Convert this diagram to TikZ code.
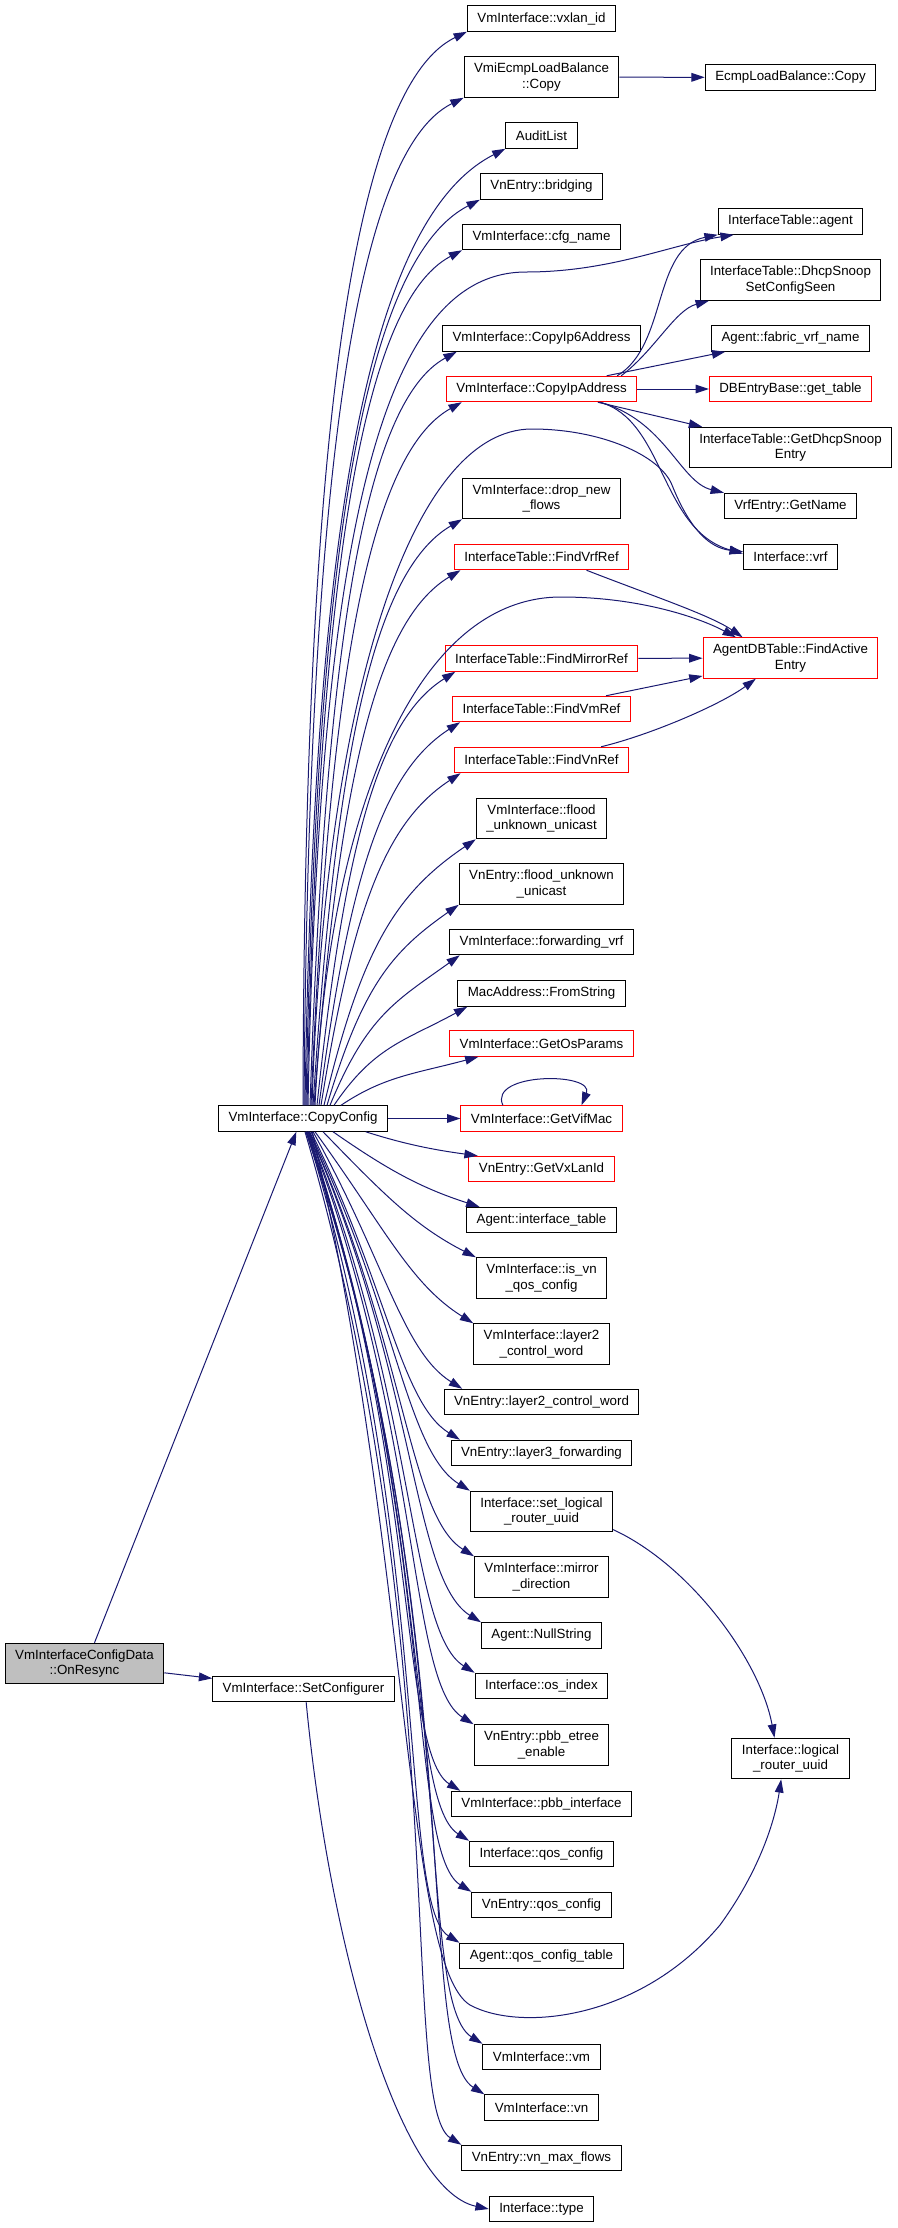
\documentclass[tikz,border=0pt]{standalone}
\usepackage{fontspec}
\setmainfont{Liberation Sans}
\usetikzlibrary{arrows.meta,calc}
\definecolor{callblue}{HTML}{191970}
\definecolor{rootgray}{HTML}{BFBFBF}
\tikzset{fn/.style={draw=black,line width=0.75pt,fill=white,font=\fontsize{10}{11.5}\selectfont,inner xsep=7.5pt,inner ysep=1pt,minimum height=19.1pt,align=center}}
\tikzset{trunc/.style={fn,draw=red}}
\tikzset{two/.style={minimum height=30.4pt}}
\tikzset{root/.style={fn,fill=rootgray}}
\tikzset{call/.style={-{Triangle[length=10pt,width=6.5pt]},callblue,line width=0.75pt}}

\begin{document}
\begin{tikzpicture}[x=0.75pt,y=-0.75pt]
  \useasboundingbox (0,0) rectangle (897,2228);

  \node[fn] (vxlan) at (541.5,18.5) {VmInterface::vxlan\_id};
  \node[fn,two] (vmi) at (541.5,77) {VmiEcmpLoadBalance\\::Copy};
  \node[fn] (ecmp) at (790.5,77.5) {EcmpLoadBalance::Copy};
  \node[fn] (audit) at (541.5,135.5) {AuditList};
  \node[fn] (bridging) at (541.5,186.5) {VnEntry::bridging};
  \node[fn] (cfg) at (541.5,237) {VmInterface::cfg\_name};
  \node[fn] (agent) at (790.5,221.5) {InterfaceTable::agent};
  \node[fn,two] (dhcpset) at (790.5,280) {InterfaceTable::DhcpSnoop\\SetConfigSeen};
  \node[fn] (ip6) at (541.5,338.5) {VmInterface::CopyIp6Address};
  \node[fn] (fabric) at (790.5,338.5) {Agent::fabric\_vrf\_name};
  \node[trunc] (ipaddr) at (541.5,389) {VmInterface::CopyIpAddress};
  \node[trunc] (gettable) at (790.5,389) {DBEntryBase::get\_table};
  \node[fn,two] (dhcpentry) at (790.5,447.5) {InterfaceTable::GetDhcpSnoop\\Entry};
  \node[fn,two] (drop) at (541.5,498.5) {VmInterface::drop\_new\\\_flows};
  \node[fn] (getname) at (790.5,506) {VrfEntry::GetName};
  \node[trunc] (findvrf) at (541.5,557) {InterfaceTable::FindVrfRef};
  \node[fn] (vrf) at (790.5,557) {Interface::vrf};
  \node[trunc,two] (findactive) at (790.5,658) {AgentDBTable::FindActive\\Entry};
  \node[trunc] (mirror) at (541.5,658.5) {InterfaceTable::FindMirrorRef};
  \node[trunc] (findvm) at (541.5,709) {InterfaceTable::FindVmRef};
  \node[trunc] (findvn) at (541.5,760) {InterfaceTable::FindVnRef};
  \node[fn,two] (flood) at (541.5,818.5) {VmInterface::flood\\\_unknown\_unicast};
  \node[fn,two] (vneflood) at (541.5,884) {VnEntry::flood\_unknown\\\_unicast};
  \node[fn] (fwd) at (541.5,942) {VmInterface::forwarding\_vrf};
  \node[fn] (fromstring) at (541.5,993.5) {MacAddress::FromString};
  \node[trunc] (osparams) at (541.5,1043.5) {VmInterface::GetOsParams};
  \node[fn] (cc) at (303,1118.5) {VmInterface::CopyConfig};
  \node[trunc] (vifmac) at (541.5,1118.5) {VmInterface::GetVifMac};
  \node[trunc] (vxlanid) at (541.5,1169) {VnEntry::GetVxLanId};
  \node[fn] (ifacetable) at (541.5,1220) {Agent::interface\_table};
  \node[fn,two] (isvn) at (541.5,1278) {VmInterface::is\_vn\\\_qos\_config};
  \node[fn,two] (l2) at (541.5,1344) {VmInterface::layer2\\\_control\_word};
  \node[fn] (vnel2) at (541.5,1402) {VnEntry::layer2\_control\_word};
  \node[fn] (l3) at (541.5,1453) {VnEntry::layer3\_forwarding};
  \node[fn,two] (setlr) at (541.5,1511.5) {Interface::set\_logical\\\_router\_uuid};
  \node[fn,two] (mirrordir) at (541.5,1577) {VmInterface::mirror\\\_direction};
  \node[fn] (nullstr) at (541.5,1635.5) {Agent::NullString};
  \node[root,two] (onresync) at (84.5,1663.5) {VmInterfaceConfigData\\::OnResync};
  \node[fn] (setconf) at (303.5,1689) {VmInterface::SetConfigurer};
  \node[fn] (osindex) at (541.5,1686) {Interface::os\_index};
  \node[fn,two] (pbbetree) at (541.5,1745) {VnEntry::pbb\_etree\\\_enable};
  \node[fn,two] (logical) at (790.5,1758.5) {Interface::logical\\\_router\_uuid};
  \node[fn] (pbbif) at (541.5,1804) {VmInterface::pbb\_interface};
  \node[fn] (qos) at (541.5,1854) {Interface::qos\_config};
  \node[fn] (vneqos) at (541.5,1905) {VnEntry::qos\_config};
  \node[fn] (qostable) at (541.5,1956) {Agent::qos\_config\_table};
  \node[fn] (vm) at (541.5,2057) {VmInterface::vm};
  \node[fn] (vn) at (541.5,2107.5) {VmInterface::vn};
  \node[fn] (vnmax) at (541.5,2158) {VnEntry::vn\_max\_flows};
  \node[fn] (type) at (541.5,2209) {Interface::type};

  % calls out of CopyConfig, upwards
  \foreach \t/\s/\e in {vxlan/0/0,vmi/0.75/0,audit/1.5/0,bridging/2.25/0,cfg/3/0,
      ip6/5.25/11,ipaddr/6/12,drop/7.5/0,findvrf/8.25/5,mirror/10.5/8,findvm/12/6,
      findvn/13.5/5,flood/15.75/0,vneflood/18/0,fwd/20.25/8,fromstring/23.25/7.5,osparams/28.5/22}
    \draw[call] let \p1=([xshift=\s pt]cc.north), \p2=([xshift=\e pt]\t.south west),
      \n1={\x2-\x1}, \n2={\y2-\y1}, \n3={min(\n1,\n2)},
      \n4={max(0,0.33-\n2/2500)}, \n5={0.45+\n2/3000} in
      (\p1) .. controls +(\n4*\n1,0.6*\n2) and +(-\n5*\n1,-0.35*\n3) .. (\p2);

  % calls out of CopyConfig, downwards
  \foreach \t/\s/\e in {vxlanid/47/7,ifacetable/22.5/10,isvn/15/0,l2/9/0,vnel2/7.5/14,
      l3/6/7,setlr/5/0,mirrordir/4.5/0,nullstr/4.5/0,osindex/4/0,pbbetree/3.75/0,
      pbbif/3.75/7,qos/3/0,vneqos/3/0,qostable/2.5/0,vm/2.25/0,vn/2.25/0,vnmax/1.5/0}
    \draw[call] let \p1=([xshift=\s pt]cc.south), \p2=([xshift=\e pt]\t.north west),
      \n1={\x2-\x1}, \n2={\y1-\y2}, \n3={min(\n1,\n2)},
      \n4={min(0.95,0.32+\n2/1200)} in
      (\p1) .. controls +(\n4*\n1,-0.5*\n2) and +(-0.4*\n1,0.25*\n3) .. (\p2);

  \draw[call] (cc) -- (vifmac);
  \draw[call] ([xshift=-29pt]vifmac.north) .. controls (488,1072) and (595,1072) .. ([xshift=30pt]vifmac.north);
  \draw[call] ([xshift=3.75pt]cc.north) .. controls (320,500) and (390,272) .. (526,272)
    .. controls (610,272) and (670,245) .. ([xshift=12pt]agent.south west);
  \draw[call] ([xshift=6.75pt]cc.north) .. controls (325,700) and (410,429) .. (532,429)
    .. controls (600,429) and (660,455) .. (672,485) .. controls (690,530) and (710,548) .. ([yshift=4pt]vrf.west);
  \draw[call] ([xshift=9pt]cc.north) .. controls (330,800) and (420,597) .. (561,597)
    .. controls (640,597) and (700,618) .. ([xshift=25pt]findactive.north west);
  \draw[call] ([xshift=7pt]cc.south) .. controls (410,1560) and (405,1965) .. (470,2005)
    .. controls (520,2032) and (640,2020) .. (720,1925) .. controls (760,1870) and (775,1820) .. ([xshift=-7pt]logical.south);

  \draw[call] (vmi) -- (ecmp);
  \draw[call] ([xshift=-15pt]ipaddr.north east) .. controls (668,345) and (652,248) .. (agent.south west);
  \draw[call] ([xshift=-12pt]ipaddr.north east) .. controls (655,350) and (675,310) .. ([xshift=7pt]dhcpset.south west);
  \draw[call] (ipaddr) -- (fabric);
  \draw[call] (ipaddr) -- (gettable);
  \draw[call] (ipaddr) -- (dhcpentry);
  \draw[call] ([xshift=-28pt]ipaddr.south east) .. controls (665,420) and (680,482) .. (getname.north west);
  \draw[call] ([xshift=-28pt]ipaddr.south east) .. controls (665,420) and (660,530) .. ([yshift=2.5pt]vrf.west);

  \draw[call] ([xshift=-32pt]findvrf.south east) .. controls (650,595) and (710,615) .. ([xshift=30pt]findactive.north west);
  \draw[call] (mirror) -- (findactive);
  \draw[call] (findvm) -- (findactive);
  \draw[call] ([xshift=-21pt]findvn.north east) .. controls (650,735) and (720,705) .. ([xshift=-26pt]findactive.south);

  \draw[call] ([yshift=2pt]setlr.south east) .. controls (690,1565) and (760,1660) .. ([xshift=-12pt]logical.north);

  \draw[call] ([xshift=7.5pt]onresync.north) -- ([xshift=-5pt]cc.south);
  \draw[call] (onresync) -- (setconf);
  \draw[call] ([xshift=2pt]setconf.south) .. controls (330,1950) and (400,2190) .. (type.west);
\end{tikzpicture}
\end{document}
